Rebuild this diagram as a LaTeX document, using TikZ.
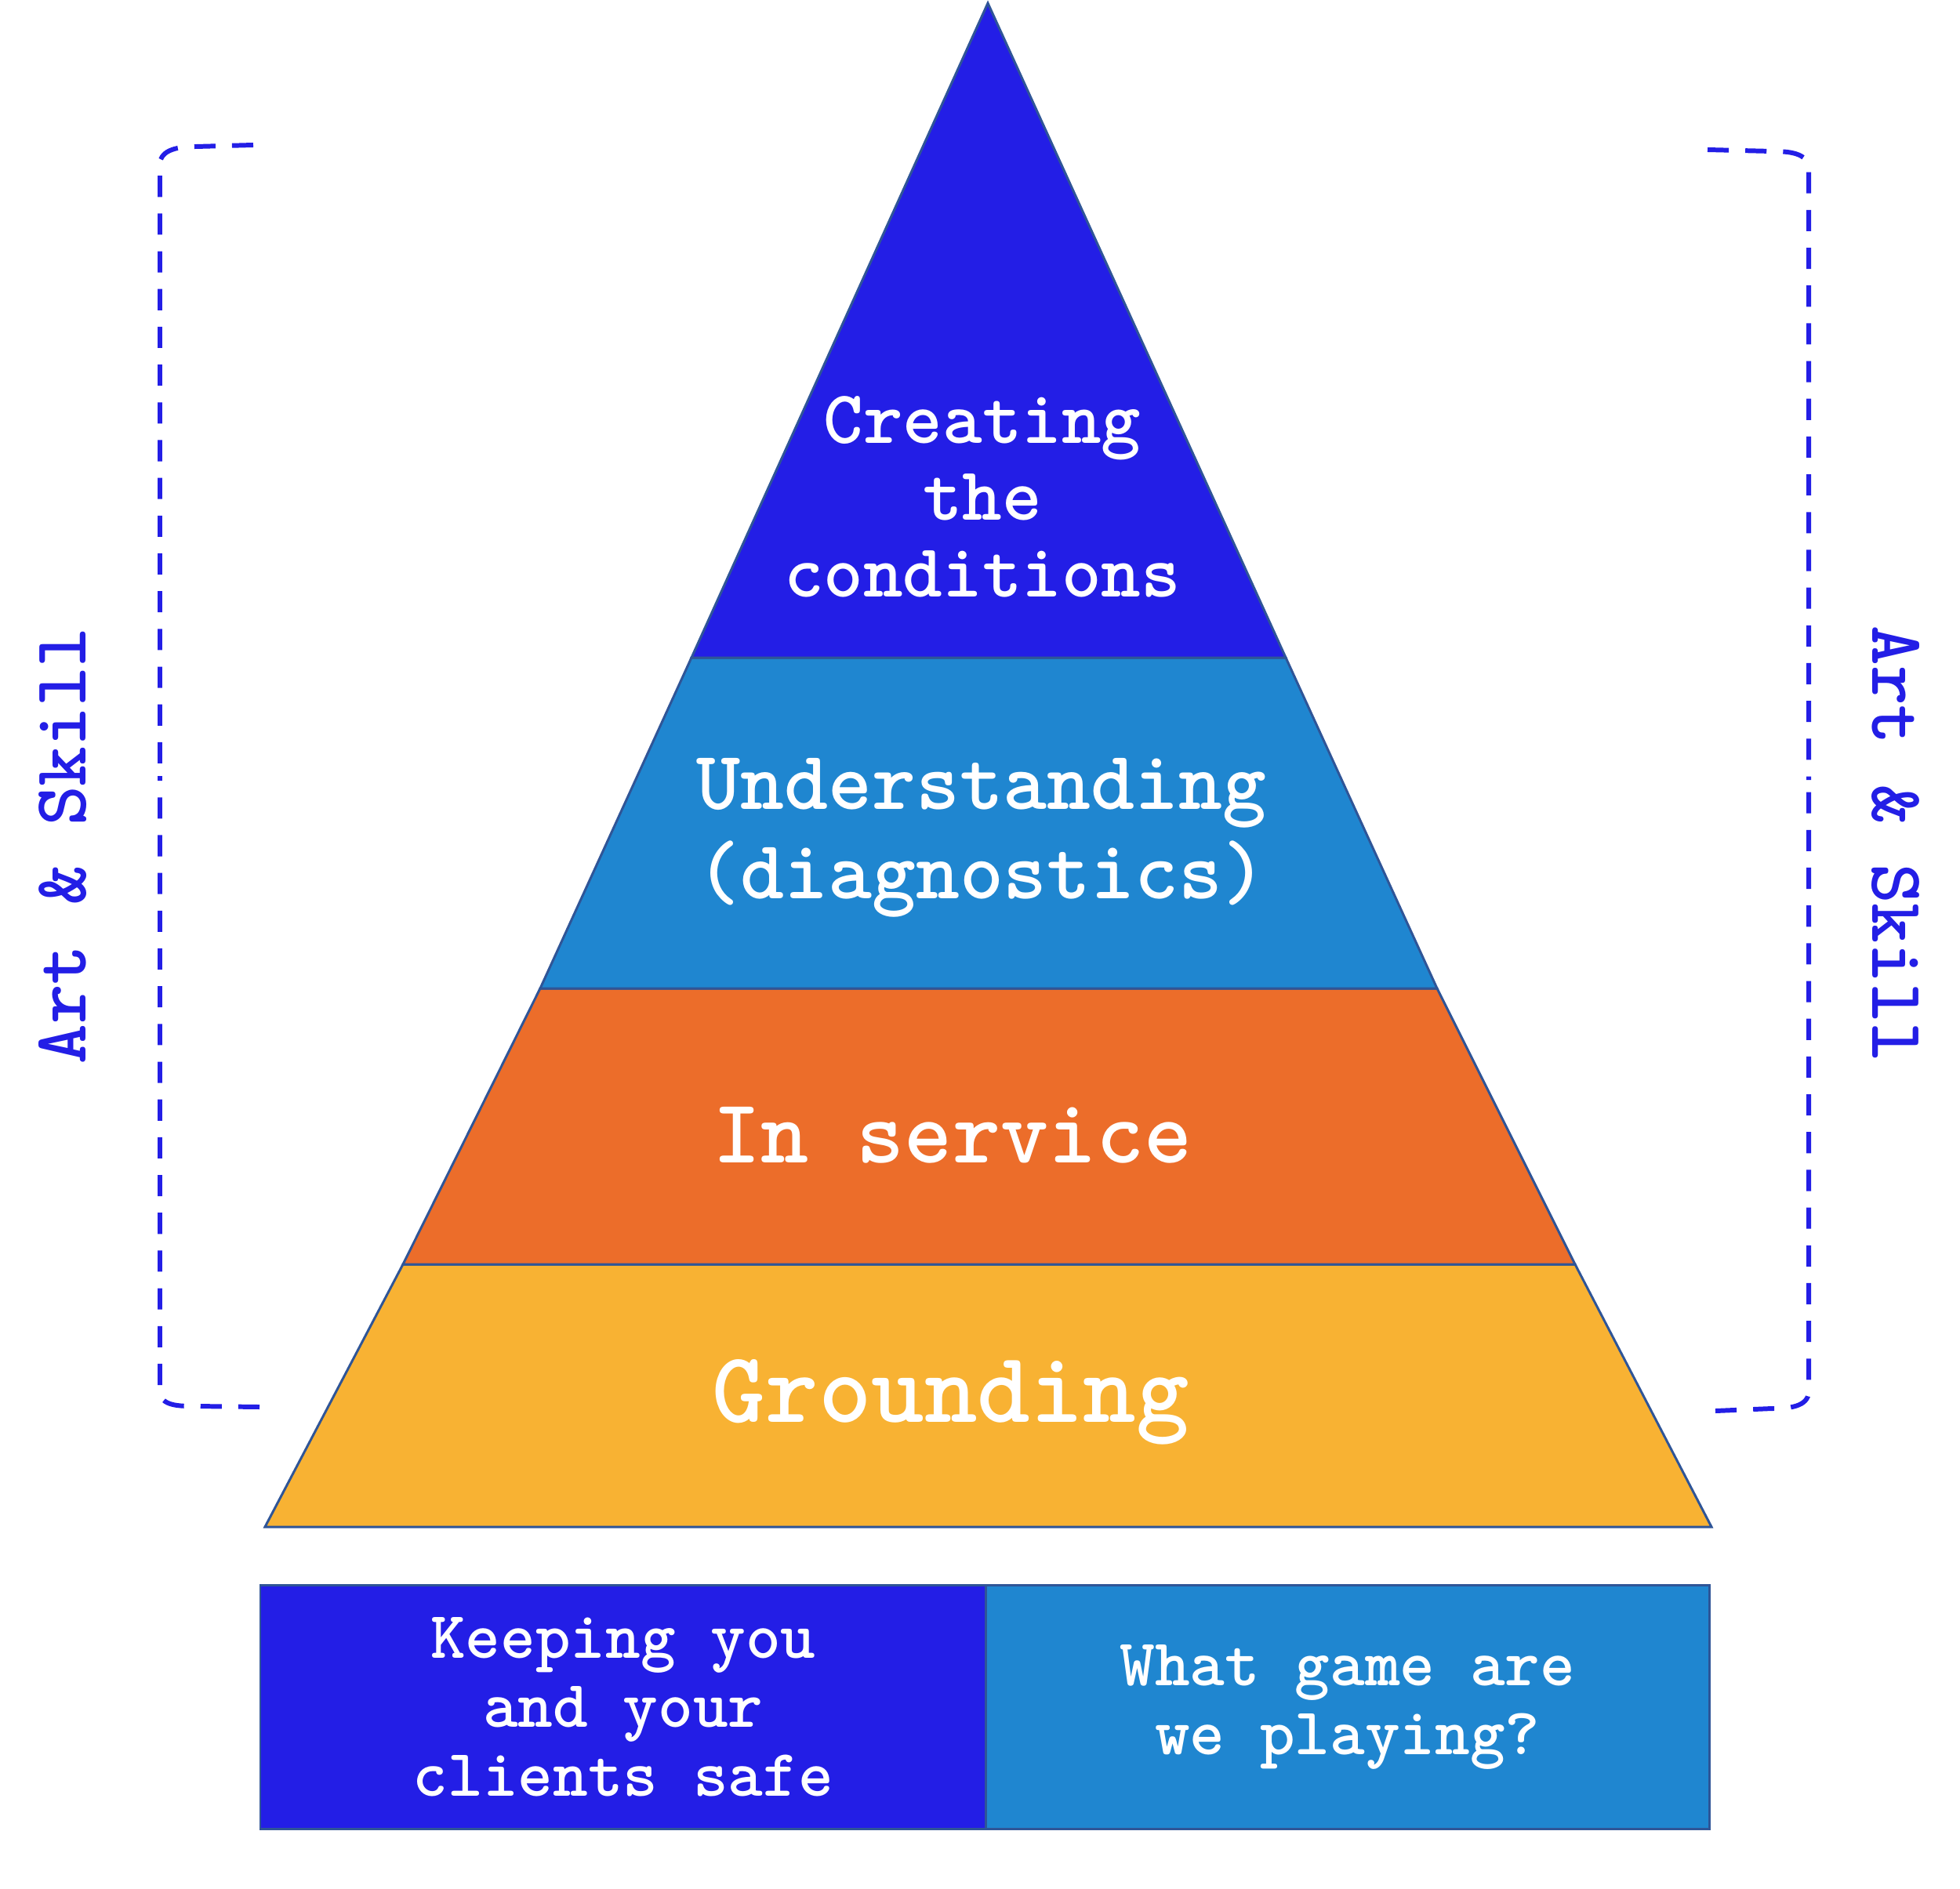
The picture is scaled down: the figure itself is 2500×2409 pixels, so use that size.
\documentclass[tikz,border=0pt]{standalone}
\usepackage{fontspec}
\usepackage{tikz}
\usetikzlibrary{positioning}

\definecolor{pyrnavy}{HTML}{231EE6}
\definecolor{pyrsky}{HTML}{1F86D0}
\definecolor{pyrorange}{HTML}{EC6D2A}
\definecolor{pyryellow}{HTML}{F8B233}
\definecolor{pyredge}{HTML}{2F5597}

\begin{document}
\begin{tikzpicture}[
    x=0.01cm, y=-0.01cm,
    tier/.style={draw=pyredge, line width=0.85pt, line join=miter},
    label/.style={text=white, align=center, inner sep=0pt, font=\ttfamily\bfseries},
    basebox/.style={rectangle, draw=pyredge, line width=0.85pt, minimum height=3.11cm, inner sep=0pt, outer sep=0pt, text=white, align=center, font=\ttfamily\bfseries\fontsize{24.2}{25}\selectfont},
    bracket/.style={draw=pyrnavy, line width=1.7pt, dash pattern=on 7.7pt off 6pt},
    side/.style={text=pyrnavy, inner sep=0pt, font=\ttfamily\bfseries\fontsize{27.4}{30}\selectfont}
]
\useasboundingbox (0,0) rectangle (2500,2409);

% Pyramid tiers
\path[tier, fill=pyryellow] (514,1613) -- (2009,1613) -- (2183,1948) -- (338,1948) -- cycle;
\path[tier, fill=pyrorange] (689,1261) -- (1833,1261) -- (2009,1613) -- (514,1613) -- cycle;
\path[tier, fill=pyrsky] (882,839) -- (1640,839) -- (1833,1261) -- (689,1261) -- cycle;
\path[tier, fill=pyrnavy] (1260,4) -- (1640,839) -- (882,839) -- cycle;

% Tier labels
\node[label, font=\ttfamily\bfseries\fontsize{27.4}{27.9}\selectfont] (create) at (1253,634) {Creating\\the\\conditions};
\node[label, font=\ttfamily\bfseries\fontsize{30.3}{32.3}\selectfont] (under) at (1252,1069) {Understanding\\(diagnostics)};
\node[label, font=\ttfamily\bfseries\fontsize{33.1}{35}\selectfont] (service) at (1215,1448) {In service};
\node[label, font=\ttfamily\bfseries\fontsize{36.6}{40}\selectfont] (ground) at (1213,1789) {Grounding};

% Base boxes
\node[basebox, fill=pyrnavy, minimum width=9.25cm, anchor=north west] (safe) at (332,2022) {Keeping you\\and your\\clients safe};
\node[basebox, fill=pyrsky, minimum width=9.22cm, right=0pt of safe] (game) {What game are\\we playing?};

% Side brackets, each half drawn from its open end
\draw[bracket] (323,185) -- (250,187) to[out=180,in=90] (204,210) -- (204,990);
\draw[bracket] (331,1795) -- (250,1794) to[out=180,in=-90] (204,1775) -- (204,990);
\draw[bracket] (2178,191) -- (2260,193) to[out=0,in=90] (2307,215) -- (2307,995);
\draw[bracket] (2188,1800) -- (2260,1797) to[out=0,in=-90] (2307,1775) -- (2307,995);

% Side labels
\node[side, rotate=90] (artL) at (80,1079) {Art \& Skill};
\node[side, rotate=-90] (artR) at (2418,1077) {Art \& Skill};
\end{tikzpicture}
\end{document}
